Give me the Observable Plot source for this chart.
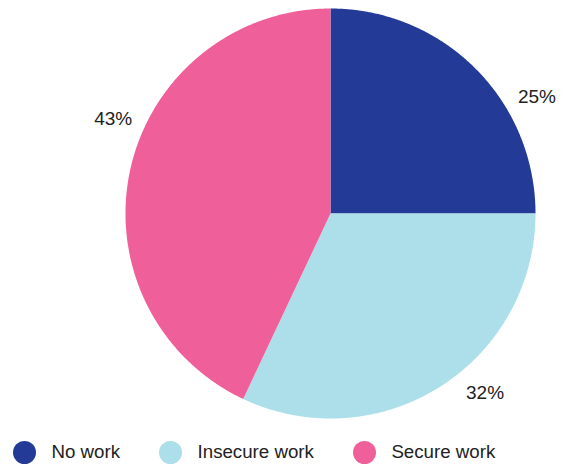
<!DOCTYPE html>
<html>
<head>
<meta charset="utf-8">
<script src="https://cdn.jsdelivr.net/npm/d3@7"></script>
<script src="https://cdn.jsdelivr.net/npm/@observablehq/plot@0.6"></script>
<style>
  html, body { margin: 0; padding: 0; background: #fff; }
  body { width: 567px; height: 467px; overflow: hidden; font-family: "Liberation Sans", Arial, Helvetica, sans-serif; }
  #legend { display: flex; align-items: center; height: 44px; padding-left: 13px; font-size: 18.7px; color: #222; white-space: nowrap; }
  .item { display: flex; align-items: center; margin-right: 39px; }
  .sw { width: 23px; height: 23px; border-radius: 50%; margin-right: 15.5px; flex: none; }
</style>
</head>
<body>
<div id="chart"></div>
<div id="legend"></div>
<script>
// ---- data ----
const categories = ["No work", "Insecure work", "Secure work"];
const shares = [25, 32, 43];
const labels = ["25%", "32%", "43%"];

// ---- styles / layout ----
const colors = ["#233a96", "#acdfe9", "#ef5f9a"];
const labelAngleNudge = [15.6, -8.3, 10.9]; // degrees, label placement tweak
const W = 567, H = 430, CX = 330, CY = 213, R = 205, RL = 237;

const arcs = d3.pie().sort(null).value(d => d)(shares);

const slicePts = [];
arcs.forEach((a, i) => {
  const cat = categories[i];
  slicePts.push({cat, x: 0, y: 0});
  const n = Math.max(2, Math.ceil((a.endAngle - a.startAngle) / 0.005));
  for (let k = 0; k <= n; k++) {
    const t = a.startAngle + (a.endAngle - a.startAngle) * k / n;
    slicePts.push({cat, x: R * Math.sin(t), y: -R * Math.cos(t)});
  }
});

const labelPts = arcs.map((a, i) => {
  const t = (a.startAngle + a.endAngle) / 2 + labelAngleNudge[i] * Math.PI / 180;
  return {cat: categories[i], label: labels[i], x: RL * Math.sin(t), y: -RL * Math.cos(t)};
});

const chart = Plot.plot({
  width: W, height: H,
  margin: 0,
  x: {domain: [-CX, W - CX], range: [0, W], axis: null},
  y: {domain: [-CY, H - CY], range: [0, H], axis: null},
  color: {domain: categories, range: colors},
  style: {fontFamily: '"Liberation Sans", Arial, Helvetica, sans-serif', background: "#fff"},
  marks: [
    Plot.line(slicePts, {x: "x", y: "y", z: "cat", fill: "cat", stroke: null, curve: "linear-closed"}),
    Plot.text(labelPts, {x: "x", y: "y", text: "label", fontSize: 19, fill: "#222", textAnchor: "middle"})
  ]
});
document.getElementById("chart").appendChild(chart);

const legend = document.getElementById("legend");
categories.forEach((c, i) => {
  const item = document.createElement("div");
  item.className = "item";
  const sw = document.createElement("span");
  sw.className = "sw";
  sw.style.background = colors[i];
  const tx = document.createElement("span");
  tx.textContent = c;
  item.appendChild(sw); item.appendChild(tx);
  legend.appendChild(item);
});
</script>
</body>
</html>
